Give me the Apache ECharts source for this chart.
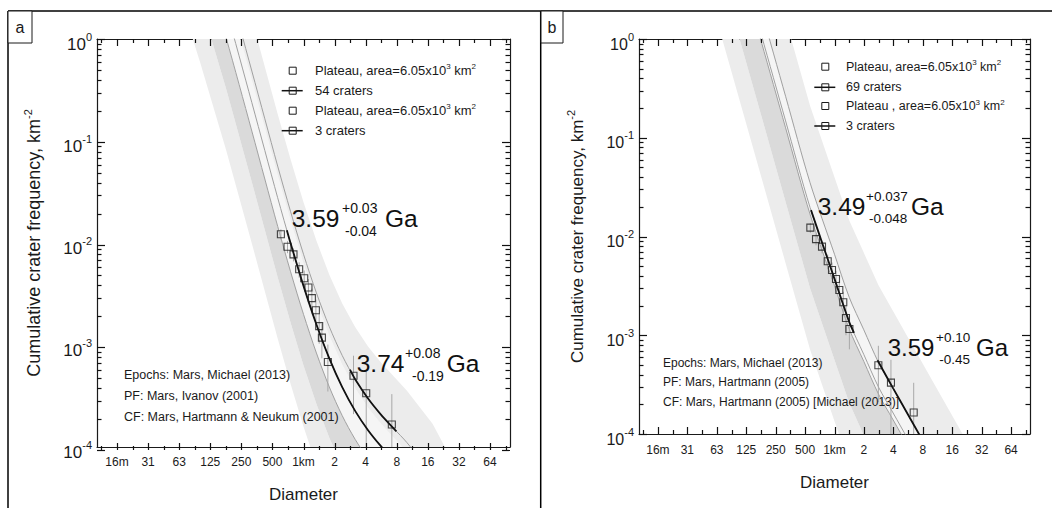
<!DOCTYPE html>
<html><head><meta charset="utf-8">
<script src="https://cdn.jsdelivr.net/npm/echarts@6/dist/echarts.min.js"></script>
<style>html,body{margin:0;padding:0;background:#fff}#c{width:1052px;height:508px}</style>
</head><body><div id="c"></div>
<script>
// ---------- tick values / labels ----------
const xTickValues = [0.015625,0.03125,0.0625,0.125,0.25,0.5,1,2,4,8,16,32,64];
const xTickLabels = ['16m','31','63','125','250','500','1km','2','4','8','16','32','64'];
const xMinorTicks = [0.011049,0.022097,0.044194,0.088388,0.176777,0.353553,0.707107,1.414214,2.828427,5.656854,11.313708,22.627417,45.254834,90.509668];
const yTickValues = [1e-4,1e-3,1e-2,1e-1,1];
const yTickExp = ['-4','-3','-2','-1','0'];
const yMinorTicks = [2e-4,3e-4,4e-4,5e-4,6e-4,7e-4,8e-4,9e-4,2e-3,3e-3,4e-3,5e-3,6e-3,7e-3,8e-3,9e-3,2e-2,3e-2,4e-2,5e-2,6e-2,7e-2,8e-2,9e-2,0.2,0.3,0.4,0.5,0.6,0.7,0.8,0.9];

// ---------- panel a : crater counts (D km, N km^-2) ----------
const aD1 = [0.604,0.700,0.800,0.908,1.016,1.117,1.205,1.318,1.419,1.507,1.722];
const aN1 = [1.22e-2,9.18e-3,7.73e-3,5.52e-3,4.51e-3,3.66e-3,2.88e-3,2.19e-3,1.53e-3,1.18e-3,6.82e-4];
const aLo1 = [1.08e-2,7.94e-3,6.6e-3,4.57e-3,3.65e-3,2.89e-3,2.2e-3,1.59e-3,1.03e-3,7.4e-4,3.5e-4];
const aHi1 = [1.36e-2,1.042e-2,8.86e-3,6.47e-3,5.37e-3,4.44e-3,3.56e-3,2.79e-3,2.03e-3,1.62e-3,1.01e-3];
const aD2 = [3.05,4.05,7.17];
const aN2 = [4.99e-4,3.36e-4,1.66e-4];
const aLo2 = [2.1e-4,1.0e-4,1e-6];
const aHi2 = [7.85e-4,5.7e-4,3.3e-4];
// fitted isochrons (black)
const aFitD1 = [0.69,0.75,1,1.334,1.778,2.371,3.162,4.217,5.623,7.499];
const aFitN1 = [1.337e-2,9.95e-3,3.80e-3,1.589e-3,7.40e-4,3.86e-4,2.26e-4,1.462e-4,1.019e-4,7.41e-5];
const aFitD2 = [2.82,3.162,4.217,5.623,7.499,7.94];
const aFitN2 = [5.73e-4,4.62e-4,2.99e-4,2.08e-4,1.514e-4,1.42e-4];
// isochron / epoch-band curves sampled at aIsoD
const aIsoD = [0.0562,0.1,0.178,0.316,0.422,0.562,0.750,1,1.334,1.778,2.371,3.162,4.217,5.623,7.499,10,17.78,31.62];
const aEdge1 = [3.72,0.585,0.0817,9.91e-3,3.37e-3,1.159e-3,4.15e-4,1.585e-4,6.62e-5,3.08e-5,1.61e-5,9.4e-6,6.1e-6,4.2e-6,3.1e-6,2.3e-6,1.07e-6,3.6e-7];
const aEdge2 = [14.8,2.33,0.325,0.0394,0.0134,4.61e-3,1.65e-3,6.31e-4,2.64e-4,1.23e-4,6.4e-5,3.76e-5,2.43e-5,1.69e-5,1.23e-5,9.0e-6,4.3e-6,1.42e-6];
const aEdge3 = [46.9,7.36,1.028,0.125,0.0424,0.0146,5.22e-3,2.0e-3,8.34e-4,3.88e-4,2.03e-4,1.19e-4,7.67e-5,5.35e-5,3.89e-5,2.85e-5,1.35e-5,4.5e-6];
const aEdge4 = [148,23.3,3.25,0.394,0.134,0.0461,0.0165,6.31e-3,2.64e-3,1.23e-3,6.41e-4,3.76e-4,2.43e-4,1.69e-4,1.23e-4,9.0e-5,4.26e-5,1.42e-5];
const aEdge5 = [590,92.7,12.9,1.57,0.533,0.184,0.0658,0.0251,0.0105,4.89e-3,2.55e-3,1.50e-3,9.66e-4,6.73e-4,4.90e-4,3.59e-4,1.69e-4,5.66e-5];
const aIso1 = [89.3,14.0,1.96,0.238,0.0807,0.0278,9.95e-3,3.80e-3,1.589e-3,7.40e-4,3.86e-4,2.26e-4,1.462e-4,1.019e-4,7.41e-5,5.43e-5,2.56e-5,8.6e-6];
const aIso2 = [182,28.6,4.0,0.485,0.165,0.0568,0.0203,7.76e-3,3.24e-3,1.51e-3,7.89e-4,4.62e-4,2.99e-4,2.08e-4,1.514e-4,1.109e-4,5.24e-5,1.75e-5];

// ---------- panel b ----------
const bD1 = [0.566,0.647,0.745,0.852,0.943,1.036,1.12,1.23,1.31,1.42];
const bN1 = [1.23e-2,9.4e-3,7.9e-3,5.61e-3,4.58e-3,3.71e-3,2.87e-3,2.16e-3,1.495e-3,1.156e-3];
const bLo1 = [1.09e-2,8.15e-3,6.76e-3,4.65e-3,3.71e-3,2.93e-3,2.19e-3,1.56e-3,1.0e-3,7.2e-4];
const bHi1 = [1.37e-2,1.065e-2,9.04e-3,6.57e-3,5.45e-3,4.49e-3,3.55e-3,2.76e-3,2.0e-3,1.59e-3];
const bD2 = [2.81,3.78,6.46];
const bN2 = [4.96e-4,3.31e-4,1.65e-4];
const bLo2 = [2.1e-4,9.7e-5,1e-6];
const bHi2 = [7.82e-4,5.64e-4,3.3e-4];
const bFitD1 = [0.575,0.75,1.0,1.413,1.585];
const bFitN1 = [0.0185,8.56e-3,3.72e-3,1.365e-3,1.059e-3];
const bFitD2 = [2.754,3.981,5.623,7.943];
const bFitN2 = [5.58e-4,2.90e-4,1.585e-4,8.66e-5];
const bIsoD = [0.0562,0.1,0.178,0.316,0.562,1,1.413,1.995,2.818,3.981,5.623,10,17.78,31.62];
const bEdge1 = [2.26,0.302,0.0403,5.37e-3,7.16e-4,1.349e-4,4.95e-5,2.32e-5,1.08e-5,5.9e-6,3.2e-6,1.18e-6,4.3e-7,1.58e-7];
const bEdge2 = [9.44,1.259,0.168,0.0224,2.99e-3,5.62e-4,2.07e-4,9.66e-5,4.52e-5,2.47e-5,1.35e-5,4.9e-6,1.8e-6,6.6e-7];
const bEdge3 = [53.1,7.08,0.944,0.126,0.0168,3.16e-3,1.161e-3,5.43e-4,2.54e-4,1.388e-4,7.59e-5,2.77e-5,1.01e-5,3.7e-6];
const bEdge4 = [106,14.1,1.884,0.251,0.0335,6.31e-3,2.32e-3,1.084e-3,5.07e-4,2.77e-4,1.514e-4,5.53e-5,2.02e-5,7.4e-6];
const bEdge5 = [668,89.1,11.9,1.585,0.211,0.0398,0.0146,6.84e-3,3.20e-3,1.748e-3,9.55e-4,3.49e-4,1.274e-4,4.65e-5];
const bIso1 = [62.4,8.32,1.109,0.148,0.0197,3.72e-3,1.365e-3,6.38e-4,2.99e-4,1.631e-4,8.91e-5,3.25e-5,1.19e-5,4.3e-6];
const bIso2 = [111,14.8,1.972,0.263,0.0351,6.61e-3,2.43e-3,1.135e-3,5.31e-4,2.90e-4,1.585e-4,5.79e-5,2.11e-5,7.7e-6];

// ---------- rendering ----------
const FONT = '"Liberation Sans", Arial, Helvetica, sans-serif';
const INK = '#1a1a1a';
const XMIN = 0.01, XMAX = 100, YMIN = 1e-4, YMAX = 1;
const GRIDS = [{left: 97, top: 39, width: 413, height: 411}, {left: 639, top: 39, width: 391, height: 395}];
const chart = echarts.init(document.getElementById('c'), null, {renderer: 'svg', width: 1052, height: 508});

function idxOf(arr, v) {
  let best = 0, bd = Infinity;
  arr.forEach((t, i) => { const d = Math.abs(Math.log(t) - Math.log(v)); if (d < bd) { bd = d; best = i; } });
  return best;
}

function axesFor(gi, o) {
  const xc = {gridIndex: gi, type: 'log', logBase: 10, min: XMIN, max: XMAX, splitLine: {show: false}, axisTick: {show: false}};
  const yc = {gridIndex: gi, type: 'log', logBase: 10, min: YMIN, max: YMAX, splitLine: {show: false}, axisTick: {show: false}};
  const line = {show: true, onZero: false, lineStyle: {color: INK, width: 1.2}};
  const xs = [
    Object.assign({}, xc, {position: 'bottom', axisLine: line,
      axisLabel: {show: true, customValues: xTickValues, formatter: v => xTickLabels[idxOf(xTickValues, v)],
        margin: o.xMargin, fontSize: 12, fontFamily: FONT, color: INK, showMinLabel: true, showMaxLabel: true},
      name: 'Diameter', nameLocation: 'middle', nameGap: o.xNameGap,
      nameTextStyle: {fontSize: 17, fontFamily: FONT, color: INK}}),
    Object.assign({}, xc, {position: 'top', axisLine: line, axisLabel: {show: false}})
  ];
  const ys = [
    Object.assign({}, yc, {position: 'left', axisLine: line,
      axisLabel: {show: true, customValues: yTickValues, showMinLabel: true, showMaxLabel: true,
        formatter: v => '{b|10}{s|' + yTickExp[idxOf(yTickValues, v)] + '}',
        margin: 5, padding: [10, 0, 0, 0],
        rich: {b: {fontSize: o.yFont, fontFamily: FONT, color: INK, lineHeight: 26, verticalAlign: 'middle'},
               s: {fontSize: 11, fontFamily: FONT, color: INK, lineHeight: 8, verticalAlign: 'top'}}},
      name: 'Cumulative crater frequency, km{s|-2}', nameLocation: 'middle', nameGap: o.yNameGap,
      nameTextStyle: {fontSize: o.yNameFont, fontFamily: FONT, color: INK, lineHeight: 24,
        rich: {s: {fontSize: 11, fontFamily: FONT, color: INK, lineHeight: 11, verticalAlign: 'top'}}}}),
    Object.assign({}, yc, {position: 'right', axisLine: line, axisLabel: {show: false}})
  ];
  return {xs, ys};
}

function band(gi, D, lower, upper, color) {
  return {type: 'custom', xAxisIndex: gi * 2, yAxisIndex: gi * 2, clip: true, silent: true, z: 1,
    data: D.map((d, i) => [d, lower[i], upper[i]]),
    renderItem: (params, api) => {
      if (params.dataIndex !== 0) return null;
      const pts = [];
      for (let i = 0; i < D.length; i++) pts.push(api.coord([D[i], lower[i]]));
      for (let i = D.length - 1; i >= 0; i--) pts.push(api.coord([D[i], upper[i]]));
      return {type: 'polygon', shape: {points: pts}, style: {fill: color, stroke: null}};
    }};
}
function curve(gi, D, N, color, width, z) {
  return {type: 'line', xAxisIndex: gi * 2, yAxisIndex: gi * 2, data: D.map((d, i) => [d, N[i]]),
    showSymbol: false, symbol: 'none', smooth: 0.3, silent: true, z: z, clip: true,
    lineStyle: {color: color, width: width}};
}
function errBars(gi, D, lo, hi) {
  return {type: 'custom', xAxisIndex: gi * 2, yAxisIndex: gi * 2, clip: true, silent: true, z: 4,
    data: D.map((d, i) => [d, lo[i], hi[i]]),
    renderItem: (params, api) => {
      const a = api.coord([api.value(0), api.value(1)]);
      const b = api.coord([api.value(0), api.value(2)]);
      return {type: 'line', shape: {x1: a[0], y1: a[1], x2: b[0], y2: b[1]}, style: {stroke: '#a8a8a8', lineWidth: 1}};
    }};
}
function points(gi, D, N, name) {
  return {type: 'scatter', name: name, xAxisIndex: gi * 2, yAxisIndex: gi * 2, data: D.map((d, i) => [d, N[i]]),
    symbol: 'rect', symbolSize: 7, silent: true, z: 6,
    itemStyle: {color: 'rgba(0,0,0,0)', borderColor: INK, borderWidth: 1.1}};
}

const LIGHT = '#ececec', MED = '#dadada', VLIGHT = '#f5f5f5';
const A = axesFor(0, {xMargin: 9, xNameGap: 39, yNameGap: 51, yFont: 17, yNameFont: 18});
const B = axesFor(1, {xMargin: 10, xNameGap: 40, yNameGap: 50, yFont: 16, yNameFont: 17});

const series = [
  band(0, aIsoD, aEdge1, aEdge2, LIGHT), band(0, aIsoD, aEdge2, aEdge3, MED),
  band(0, aIsoD, aEdge3, aEdge4, VLIGHT), band(0, aIsoD, aEdge4, aEdge5, LIGHT),
  curve(0, aIsoD, aEdge3, '#a0a0a0', 1, 2),
  curve(0, aIsoD, aIso1, '#a0a0a0', 1, 2), curve(0, aIsoD, aIso2, '#a0a0a0', 1, 2),
  errBars(0, aD1, aLo1, aHi1), errBars(0, aD2, aLo2, aHi2),
  curve(0, aFitD1, aFitN1, '#111', 1.8, 5), curve(0, aFitD2, aFitN2, '#111', 1.8, 5),
  points(0, aD1, aN1, 'Plateau, area=6.05x10³ km² (54 craters)'), points(0, aD2, aN2, 'Plateau, area=6.05x10³ km² (3 craters)'),

  band(1, bIsoD, bEdge1, bEdge2, LIGHT), band(1, bIsoD, bEdge2, bEdge3, MED),
  band(1, bIsoD, bEdge3, bEdge4, VLIGHT), band(1, bIsoD, bEdge4, bEdge5, LIGHT),
  curve(1, bIsoD, bEdge3, '#a0a0a0', 1, 2),
  curve(1, bIsoD, bIso1, '#a0a0a0', 1, 2), curve(1, bIsoD, bIso2, '#a0a0a0', 1, 2),
  errBars(1, bD1, bLo1, bHi1), errBars(1, bD2, bLo2, bHi2),
  curve(1, bFitD1, bFitN1, '#111', 1.8, 5), curve(1, bFitD2, bFitN2, '#111', 1.8, 5),
  points(1, bD1, bN1, 'Plateau, area=6.05x10³ km² (69 craters)'), points(1, bD2, bN2, 'Plateau , area=6.05x10³ km² (3 craters)')
];

// ---------- inward tick marks on all four sides of each frame ----------
const T = [];
function tline(x1, y1, x2, y2) {
  T.push({type: 'line', z: 120, shape: {x1: x1, y1: y1, x2: x2, y2: y2}, style: {stroke: '#111', lineWidth: 1.2}});
}
function addTicks(gi, vals, orient, len) {
  const r = GRIDS[gi];
  vals.forEach(v => {
    if (orient === 'x') {
      const t = (Math.log10(v) - Math.log10(XMIN)) / (Math.log10(XMAX) - Math.log10(XMIN));
      const x = Math.round(r.left + t * r.width) + 0.5;
      tline(x, r.top + r.height, x, r.top + r.height - len);
      tline(x, r.top, x, r.top + len);
    } else {
      const t = (Math.log10(v) - Math.log10(YMIN)) / (Math.log10(YMAX) - Math.log10(YMIN));
      const y = Math.round(r.top + r.height - t * r.height) + 0.5;
      tline(r.left, y, r.left + len, y);
      tline(r.left + r.width, y, r.left + r.width - len, y);
    }
  });
}
[0, 1].forEach(g => {
  addTicks(g, xTickValues, 'x', 7); addTicks(g, xMinorTicks, 'x', 4);
  addTicks(g, yTickValues, 'y', 8); addTicks(g, yMinorTicks, 'y', 4.5);
});

// ---------- annotations (graphic) ----------
const G = [];
function txt(x, y, text, size, opts) {
  opts = opts || {};
  const st = {text: text, fill: opts.color || INK, fontSize: size, fontFamily: FONT,
    textAlign: opts.align || 'left', align: opts.align || 'left', textVerticalAlign: 'middle', verticalAlign: 'middle'};
  if (opts.rich) { st.rich = opts.rich; st.lineHeight = opts.lineHeight || size + 4; }
  G.push({type: 'text', x: x, y: y, z: 100, style: st});
}
function seg(x1, y1, x2, y2, w, c) {
  G.push({type: 'line', z: 100, shape: {x1: x1, y1: y1, x2: x2, y2: y2}, style: {stroke: c || '#000', lineWidth: w}});
}
function box(x, y, w, h, fill) {
  G.push({type: 'rect', z: 100, shape: {x: x, y: y, width: w, height: h}, style: {fill: fill || 'none', stroke: INK, lineWidth: 1}});
}
// frame
seg(8, 11, 1052, 11, 1.5); seg(8, 11, 8, 508, 1.5); seg(540.7, 11, 540.7, 508, 1.5);
box(8, 11, 24, 32, '#fff'); txt(20, 27, 'a', 16, {align: 'center'});
box(541, 11, 22, 32, '#fff'); txt(552, 27, 'b', 16, {align: 'center'});

const supRich = (sz) => ({s: {fontSize: sz, fontFamily: FONT, fill: INK, color: INK, lineHeight: 8, verticalAlign: 'top'}});
function legend(mx, tx, rows, size) {
  rows.forEach(r => {
    if (r.line) seg(mx - 11, r.y, mx + 10, r.y, 1.5, '#111');
    G.push({type: 'rect', z: 101, shape: {x: mx - 3.5, y: r.y - 3.5, width: 7, height: 7}, style: {fill: 'none', stroke: INK, lineWidth: 1}});
    txt(tx, r.y, r.t, size, {rich: supRich(8), lineHeight: 16});
  });
}
legend(292.7, 315, [
  {y: 70.7, t: 'Plateau, area=6.05x10{s|3} km{s|2}'},
  {y: 90.7, t: '54 craters', line: true},
  {y: 110.7, t: 'Plateau, area=6.05x10{s|3} km{s|2}'},
  {y: 130.7, t: '3 craters', line: true}], 13);
legend(825.3, 846, [
  {y: 66.7, t: 'Plateau, area=6.05x10{s|3} km{s|2}'},
  {y: 87.3, t: '69 craters', line: true},
  {y: 106, t: 'Plateau , area=6.05x10{s|3} km{s|2}'},
  {y: 126, t: '3 craters', line: true}], 12.5);

// model credits
txt(124, 374.7, 'Epochs: Mars, Michael (2013)', 12.5);
txt(124, 395.7, 'PF: Mars, Ivanov (2001)', 12.5);
txt(124, 416.7, 'CF: Mars, Hartmann & Neukum (2001)', 12.5);
txt(663, 363.3, 'Epochs: Mars, Michael (2013)', 12);
txt(663, 382.3, 'PF: Mars, Hartmann (2005)', 12);
txt(663, 401.7, 'CF: Mars, Hartmann (2005) [Michael (2013)]', 12);

// model ages
function age(x, y, main, up, dn, xUp, xDn, xGa, big, small) {
  txt(x, y, main, big, {color: '#111'});
  txt(xUp, y - 10, up, small, {color: '#111'});
  txt(xDn, y + 12.5, dn, small, {color: '#111'});
  txt(xGa, y, 'Ga', big, {color: '#111'});
}
age(291.7, 218, '3.59', '+0.03', '-0.04', 342, 345, 385, 24.5, 14);
age(356.7, 363.3, '3.74', '+0.08', '-0.19', 405, 412, 446.7, 24.5, 14);
age(817.7, 206, '3.49', '+0.037', '-0.048', 866, 869, 911, 24.5, 13.5);
age(887.7, 347, '3.59', '+0.10', '-0.45', 936, 939.3, 976, 24, 13.5);

chart.setOption({
  animation: false,
  backgroundColor: '#fff',
  grid: GRIDS.map(r => Object.assign({containLabel: false}, r)),
  xAxis: A.xs.concat(B.xs),
  yAxis: A.ys.concat(B.ys),
  series: series,
  graphic: {elements: G.concat(T)}
});
</script>
</body></html>
